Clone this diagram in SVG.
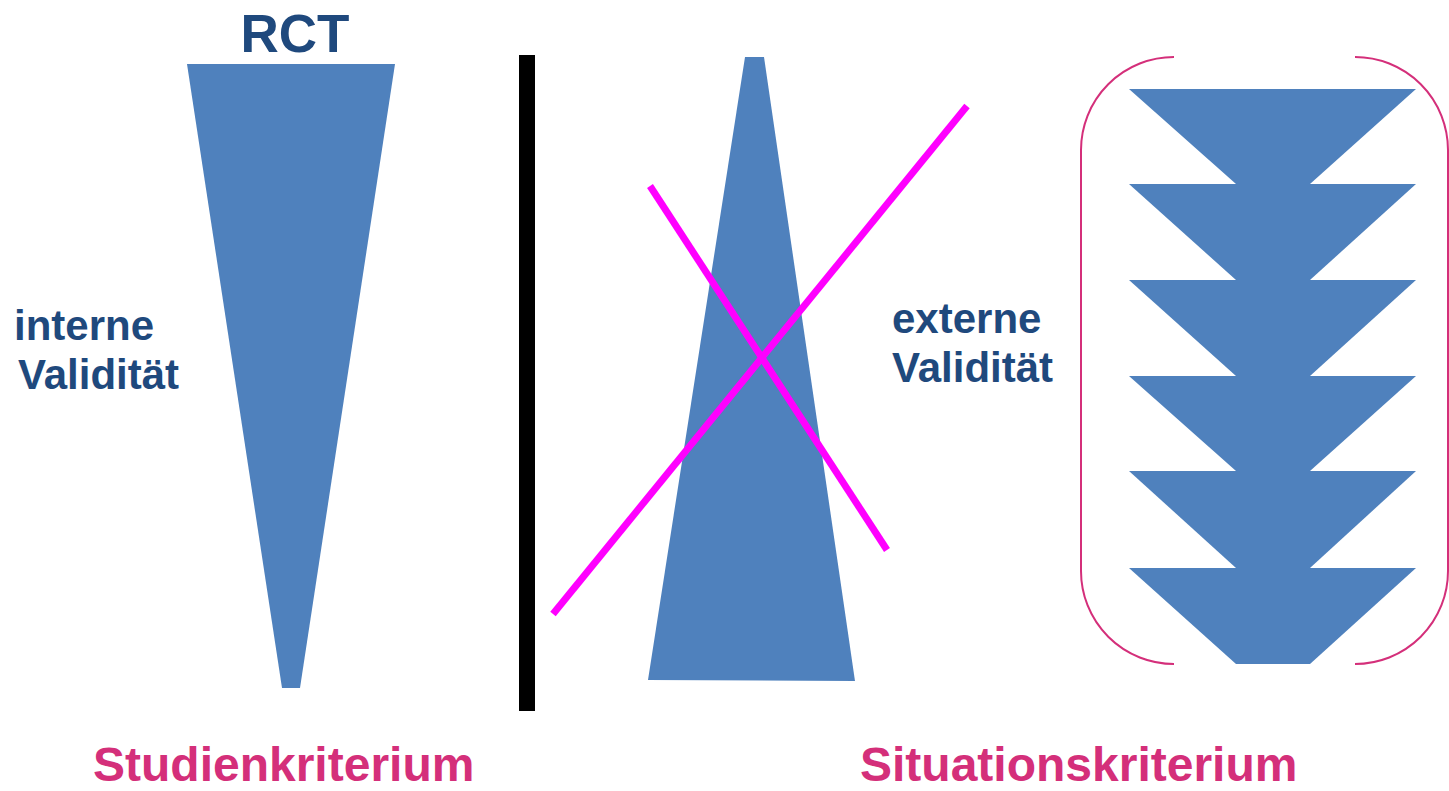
<svg xmlns="http://www.w3.org/2000/svg" width="1449" height="791" viewBox="0 0 1449 791">
<style>
.shape{fill:#4F81BD}
.lbl{font-family:"Liberation Sans",Arial,sans-serif;font-weight:bold;fill:#1F497D}
.crit{font-family:"Liberation Sans",Arial,sans-serif;font-weight:bold;fill:#D42F7A;font-size:48px}
.cross{stroke:#FF00FF;stroke-width:7;fill:none}
.brk{stroke:#D42F7A;stroke-width:2;fill:none}
</style>
<rect width="1449" height="791" fill="#fff"/>
<g id="rct-title"><text class="lbl" x="295" y="52" font-size="53" text-anchor="middle">RCT</text></g>
<g id="left-wedge"><polygon class="shape" points="187,64 395,64 300,688 282,688"/></g>
<g id="interne"><text class="lbl" font-size="42"><tspan x="14" y="340">interne</tspan><tspan x="18" y="389">Validität</tspan></text></g>
<g id="divider"><rect x="519" y="55" width="16" height="656" fill="#000"/></g>
<g id="middle-wedge"><polygon class="shape" points="745,57 764,57 855,681 648,680"/></g>
<g id="cross"><line class="cross" x1="553" y1="614" x2="967" y2="106"/><line class="cross" x1="650" y1="186" x2="887" y2="550"/></g>
<g id="externe"><text class="lbl" font-size="42"><tspan x="892" y="333">externe</tspan><tspan x="892" y="382">Validität</tspan></text></g>
<g id="bracket">
<path class="brk" d="M1174,57 A93,93 0 0 0 1081,150 L1081,571 A93,93 0 0 0 1174,664"/>
<path class="brk" d="M1355,57 A93,93 0 0 1 1448,150 L1448,571 A93,93 0 0 1 1355,664"/>
</g>
<g id="stack">
<polygon class="shape" points="1129,89 1416,89 1310,184 1236,184"/>
<polygon class="shape" points="1129,184 1416,184 1310,280 1236,280"/>
<polygon class="shape" points="1129,280 1416,280 1310,376 1236,376"/>
<polygon class="shape" points="1129,376 1416,376 1310,471 1236,471"/>
<polygon class="shape" points="1129,471 1416,471 1310,568 1236,568"/>
<polygon class="shape" points="1129,568 1416,568 1310,664 1236,664"/>
</g>
<g id="studien"><text class="crit" x="93" y="781">Studienkriterium</text></g>
<g id="situation"><text class="crit" x="860" y="781">Situationskriterium</text></g>
</svg>
